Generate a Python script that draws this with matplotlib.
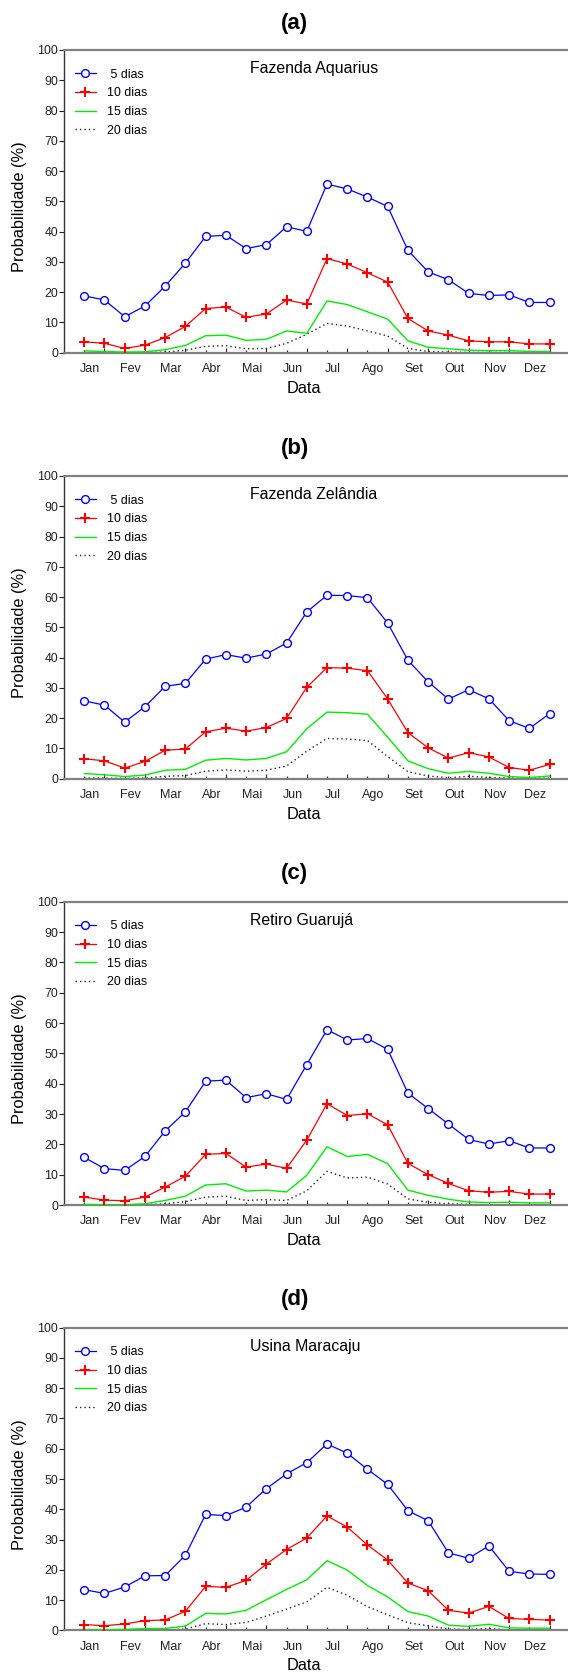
import numpy as np
import matplotlib
matplotlib.use('Agg')
import matplotlib.pyplot as plt

plt.rcParams['font.family'] = ['Liberation Sans', 'DejaVu Sans']

# 24 periodos (duas quinzenas por mes)
meses = ['Jan', 'Fev', 'Mar', 'Abr', 'Mai', 'Jun', 'Jul', 'Ago', 'Set', 'Out', 'Nov', 'Dez']
series_labels = [' 5 dias', '10 dias', '15 dias', '20 dias']
panel_tags = ['(a)', '(b)', '(c)', '(d)']
locais = ['Fazenda Aquarius', 'Fazenda Zelândia', 'Retiro Guarujá', 'Usina Maracaju']

# (a) Fazenda Aquarius
aq_5 = [18.8, 17.4, 11.9, 15.4, 22.0, 29.6, 38.4, 38.8, 34.4, 35.7, 41.6, 40.1,
        55.7, 54.1, 51.4, 48.3, 33.8, 26.7, 24.1, 19.6, 18.9, 19.1, 16.6, 16.6]
aq_10 = [3.6, 3.1, 1.4, 2.5, 5.0, 8.7, 14.6, 15.1, 11.7, 12.8, 17.4, 16.1,
         31.1, 29.3, 26.4, 23.3, 11.3, 7.2, 5.8, 3.9, 3.6, 3.6, 2.9, 2.9]
aq_15 = [0.6, 0.4, 0.2, 0.3, 1.0, 2.4, 5.6, 5.8, 4.1, 4.4, 7.2, 6.4,
         17.1, 15.9, 13.5, 11.1, 3.9, 1.8, 1.3, 0.8, 0.7, 0.7, 0.4, 0.4]
aq_20 = [0.1, 0.1, 0.0, 0.1, 0.2, 0.8, 2.1, 2.3, 1.3, 1.4, 3.1, 6.1,
         9.7, 8.8, 7.2, 5.5, 1.4, 0.4, 0.2, 0.1, 0.1, 0.1, 0.0, 0.0]

# (b) Fazenda Zelandia
ze_5 = [25.7, 24.3, 18.7, 23.8, 30.5, 31.5, 39.5, 41.0, 39.8, 41.2, 44.8, 55.1,
        60.6, 60.5, 59.8, 51.4, 39.1, 32.0, 26.3, 29.4, 26.4, 19.2, 16.6, 21.5]
ze_10 = [6.6, 5.9, 3.5, 5.7, 9.4, 9.8, 15.5, 16.7, 15.7, 16.9, 19.9, 30.2,
         36.7, 36.5, 35.7, 26.3, 15.2, 10.2, 6.8, 8.6, 7.2, 3.7, 2.8, 4.7]
ze_15 = [1.7, 1.3, 0.7, 1.2, 2.8, 3.1, 6.1, 6.7, 6.2, 6.7, 8.9, 16.5,
         22.0, 21.8, 21.3, 13.7, 5.9, 3.3, 1.8, 2.4, 1.8, 0.7, 0.4, 0.9]
ze_20 = [0.2, 0.2, 0.1, 0.2, 0.8, 1.0, 2.5, 2.9, 2.5, 2.8, 4.2, 9.1,
         13.3, 13.1, 12.6, 7.3, 2.3, 0.9, 0.3, 0.8, 0.4, 0.2, 0.1, 0.2]

# (c) Retiro Guaruja
gu_5 = [15.7, 12.0, 11.4, 16.0, 24.4, 30.7, 40.8, 41.2, 35.4, 36.7, 34.8, 46.3,
        57.8, 54.4, 54.9, 51.3, 36.9, 31.8, 26.7, 21.6, 20.1, 21.2, 18.8, 18.8]
gu_10 = [2.6, 1.6, 1.4, 2.6, 5.9, 9.5, 16.7, 17.0, 12.5, 13.5, 12.1, 21.4,
         33.4, 29.5, 30.1, 26.4, 13.7, 10.0, 7.1, 4.7, 4.2, 4.5, 3.6, 3.6]
gu_15 = [0.2, 0.1, 0.1, 0.4, 1.5, 2.9, 6.6, 7.0, 4.6, 4.9, 4.3, 9.8,
         19.2, 16.0, 16.7, 13.6, 4.9, 3.2, 1.9, 1.0, 0.8, 0.9, 0.7, 0.7]
gu_20 = [0.1, 0.0, 0.0, 0.1, 0.4, 1.1, 2.6, 2.9, 1.5, 1.8, 1.5, 4.7,
         11.1, 8.9, 9.2, 6.9, 2.0, 0.9, 0.4, 0.2, 0.1, 0.1, 0.1, 0.1]

# (d) Usina Maracaju
ma_5 = [13.4, 12.2, 14.3, 18.0, 18.1, 24.8, 38.3, 37.9, 40.7, 46.8, 51.7, 55.4,
        61.6, 58.5, 53.2, 48.2, 39.5, 36.2, 25.6, 23.8, 27.9, 19.5, 18.6, 18.5]
ma_10 = [1.9, 1.5, 2.1, 3.2, 3.4, 6.3, 14.5, 14.2, 16.5, 21.9, 26.7, 30.5,
         37.8, 34.1, 28.2, 23.2, 15.6, 13.1, 6.6, 5.7, 7.9, 3.9, 3.6, 3.4]
ma_15 = [0.2, 0.2, 0.3, 0.6, 0.6, 1.4, 5.6, 5.4, 6.6, 10.1, 13.5, 16.7,
         23.0, 19.9, 14.8, 11.0, 6.2, 4.7, 1.7, 1.3, 2.0, 0.8, 0.7, 0.7]
ma_20 = [0.1, 0.1, 0.1, 0.1, 0.1, 0.4, 2.2, 1.9, 2.6, 4.7, 7.0, 9.4,
         14.2, 11.6, 7.8, 5.1, 2.5, 1.5, 0.4, 0.3, 0.6, 0.1, 0.1, 0.1]

dados = [(aq_5, aq_10, aq_15, aq_20),
         (ze_5, ze_10, ze_15, ze_20),
         (gu_5, gu_10, gu_15, gu_20),
         (ma_5, ma_10, ma_15, ma_20)]

W, H = 568.0, 1672.0
# pixel top/bottom of each axes box
tops = [50.0, 476.0, 901.7, 1327.7]
bottoms = [352.7, 778.7, 1205.0, 1630.3]
tag_y = [23.3, 448.3, 873.3, 1300.0]
ax_left = 64.0
ax_w = 505.8   # runs a hair past the right edge, like the original crop

x = np.arange(1, 25)

fig = plt.figure(figsize=(W/100, H/100), dpi=100)

for k in range(4):
    s5, s10, s15, s20 = dados[k]
    hpx = bottoms[k] - tops[k]
    ax = fig.add_axes([ax_left/W, 1 - bottoms[k]/H, ax_w/W, hpx/H])

    ax.plot(x, s5, color='#0000ff', linewidth=0.9, marker='o', markersize=5.6,
            markerfacecolor='white', markeredgecolor='#0000ff', markeredgewidth=1.0,
            label=series_labels[0], zorder=5)
    ax.plot(x, s10, color='#ff0000', linewidth=0.9, marker='+', markersize=7.5,
            markeredgewidth=1.5, label=series_labels[1], zorder=4)
    ax.plot(x, s15, color='#00ee00', linewidth=1.0, label=series_labels[2], zorder=3)
    ax.plot(x, s20, color='#222222', linewidth=1.0, linestyle=(0, (1, 2.2)),
            label=series_labels[3], zorder=2)

    ax.set_xlim(0, 25)
    ax.set_ylim(0, 100)

    ax.spines['right'].set_visible(False)
    ax.spines['top'].set_color('#808080')
    ax.spines['top'].set_linewidth(1.6)
    ax.spines['bottom'].set_color('#808080')
    ax.spines['bottom'].set_linewidth(1.6)
    ax.spines['left'].set_color('#333333')
    ax.spines['left'].set_linewidth(1.0)

    ax.set_yticks(np.arange(0, 101, 10))
    ax.tick_params(axis='y', direction='out', length=3.6, width=0.8,
                   labelsize=8.9, pad=0.8, colors='#222222')
    ax.set_xticks(x[1::2])
    ax.set_xticks(x[0::2], minor=True)
    ax.tick_params(axis='x', which='major', direction='in', length=3.5, width=0.8,
                   labelbottom=False, color='#222222')
    ax.tick_params(axis='x', which='minor', direction='in', length=2, width=0.8,
                   color='#222222')

    trans = ax.get_xaxis_transform()
    for i, m in enumerate(meses):
        ax.text(2*i + 1.3, -16.3/hpx, m, transform=trans, ha='center', va='center',
                fontsize=9, color='#222222')

    ax.text((303.7 - ax_left)/ax_w, -35.5/hpx, 'Data', transform=ax.transAxes,
            ha='center', va='center', fontsize=11.8)
    ax.text((19.9 - ax_left)/ax_w, 0.482, 'Probabilidade (%)',
            transform=ax.transAxes, rotation=90, ha='center', va='center', fontsize=11.8)
    ax.text((250.2 - ax_left)/ax_w, 1 - 18.3/hpx, locais[k],
            transform=ax.transAxes, ha='left', va='center', fontsize=11.4)

    ax.legend(loc='upper left', bbox_to_anchor=((75.2 - ax_left)/ax_w, 1 - 18.5/hpx),
              frameon=False, fontsize=8.9, borderpad=0, borderaxespad=0,
              handlelength=1.65, handletextpad=0.95, labelspacing=0.54)

    fig.text(294.6/W, 1 - tag_y[k]/H, panel_tags[k], ha='center', va='center',
             fontsize=16, fontweight='bold')

fig.savefig('out.png', dpi=100)
